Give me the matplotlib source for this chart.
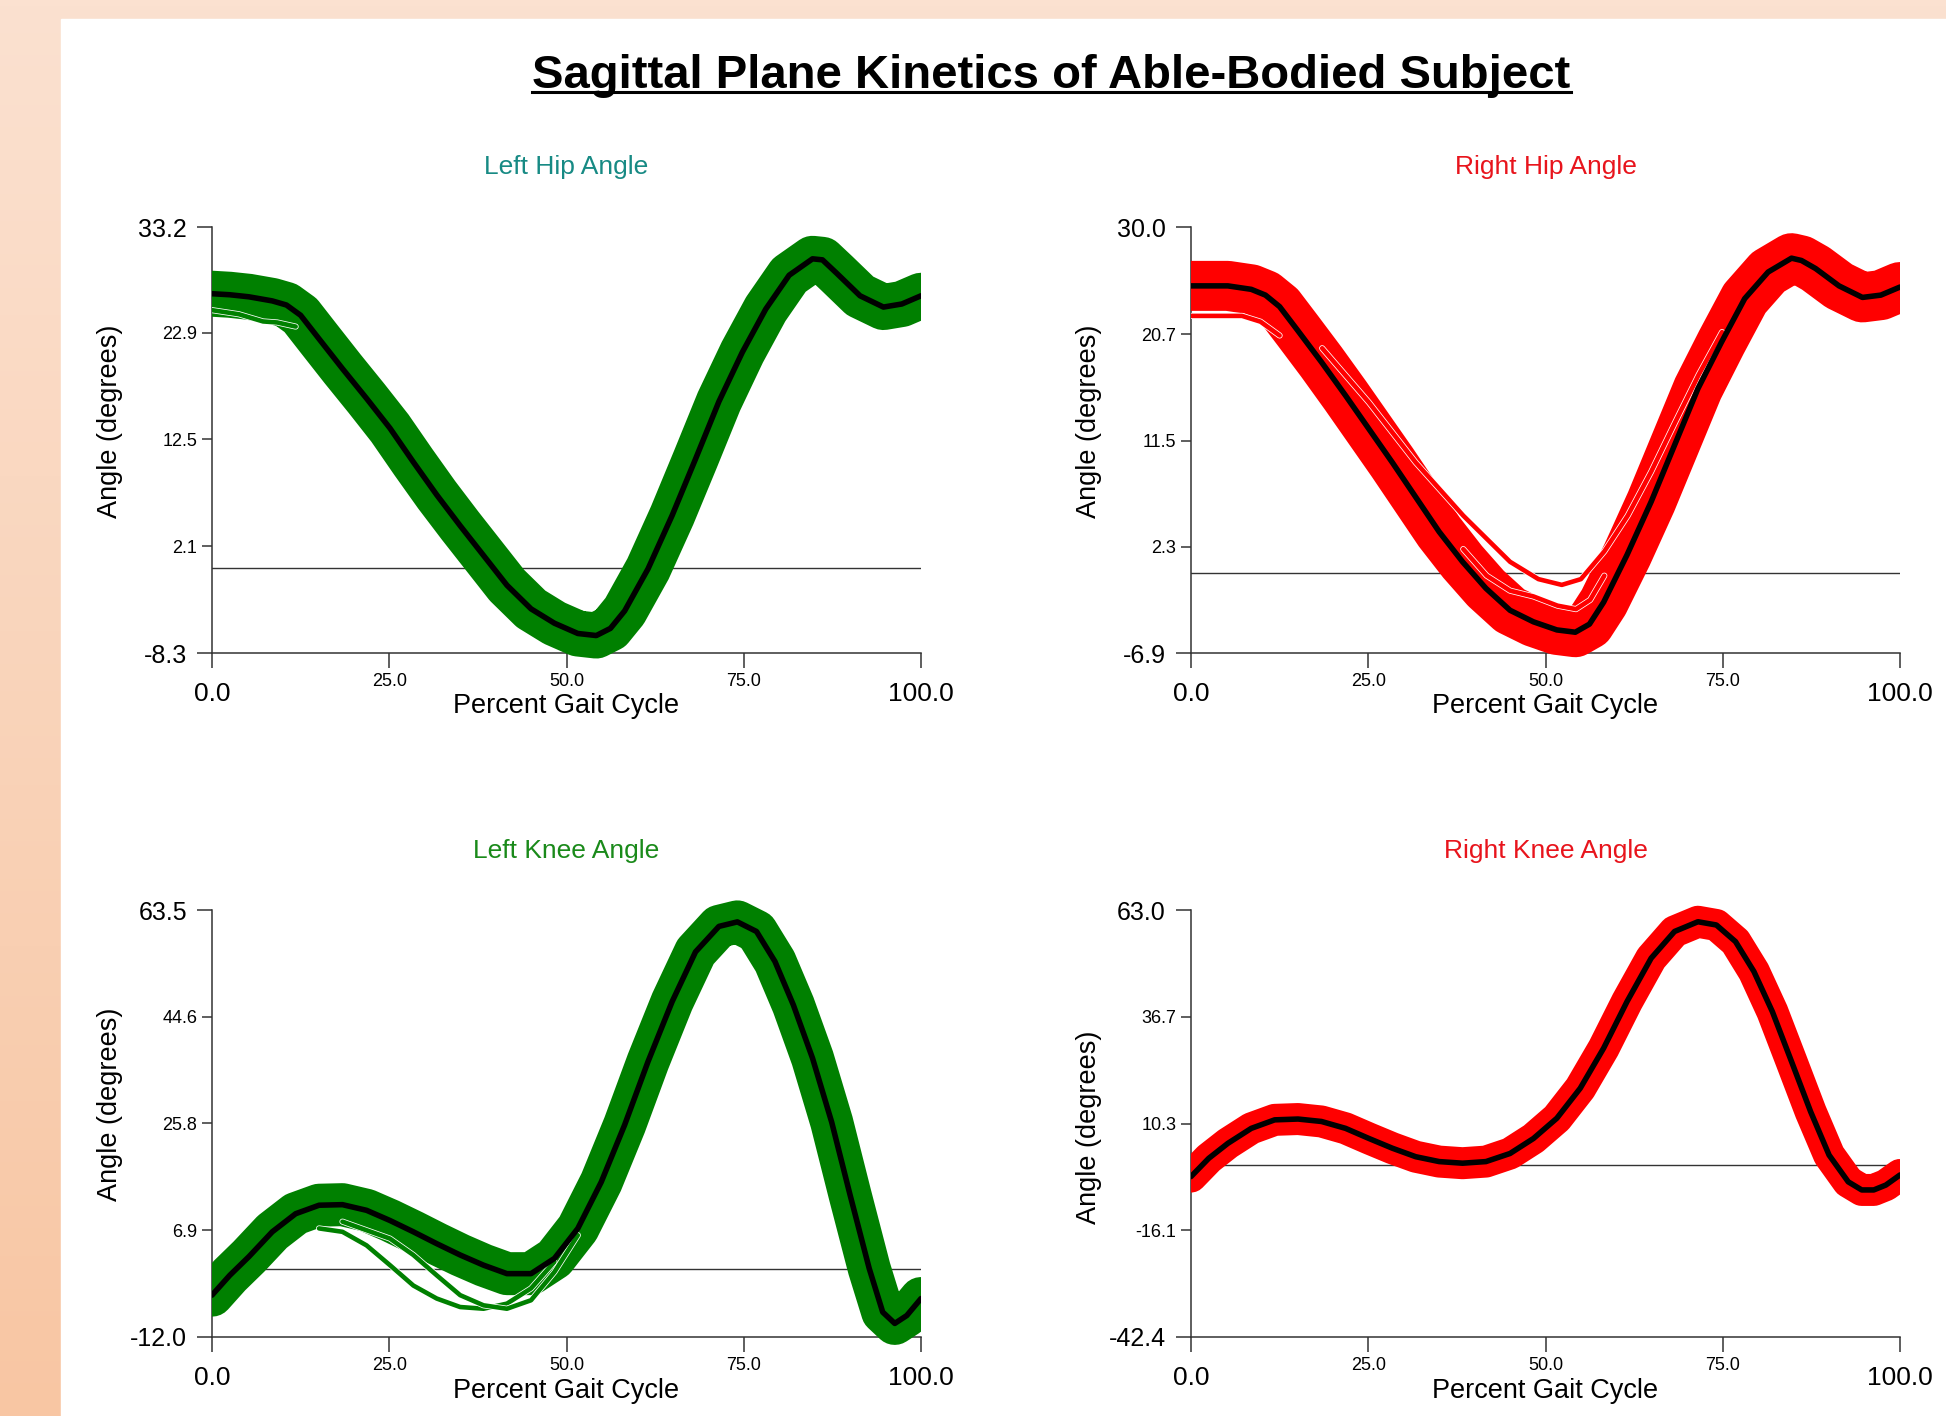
import matplotlib
matplotlib.use("Agg")
import matplotlib.pyplot as plt
import numpy as np
from matplotlib.patches import Rectangle
from matplotlib.lines import Line2D
from matplotlib.colors import LinearSegmentedColormap
import matplotlib.patheffects as pe

plt.rcParams['font.family'] = ['Liberation Sans', 'DejaVu Sans']

hip_pct = [0, 2.5, 5.2, 8.5, 10.5, 12.5, 15.1, 18.4, 21.8, 25.1, 28.4, 31.7, 35.0, 38.3,
           41.6, 45.0, 48.3, 51.6, 54.2, 56.2, 58.2, 61.5, 64.9, 68.2, 71.5, 74.8, 78.1,
           81.4, 84.7, 86.1, 88.1, 91.4, 94.7, 97.3, 100]
knee_pct = [0, 2.5, 5.2, 8.5, 11.8, 15.1, 18.4, 21.8, 25.1, 28.4, 31.7, 35.0, 38.3, 41.6,
            45.0, 48.3, 51.6, 54.9, 58.2, 61.5, 64.9, 68.2, 71.5, 74.1, 76.8, 79.4, 82.0,
            84.7, 87.4, 90.0, 92.7, 94.6, 96.3, 98.0, 100]

# mean curves (black)
left_hip_mean = [26.7, 26.6, 26.4, 26.0, 25.6, 24.6, 22.3, 19.4, 16.5, 13.6, 10.3, 7.1, 4.1, 1.2,
                 -1.7, -4.0, -5.4, -6.4, -6.6, -5.9, -4.2, -0.1, 5.1, 10.6, 16.2, 21.0, 25.2,
                 28.5, 30.1, 30.0, 28.7, 26.5, 25.4, 25.7, 26.5]
right_hip_mean = [24.9, 24.9, 24.9, 24.6, 24.1, 23.1, 21.0, 18.3, 15.4, 12.5, 9.6, 6.6, 3.6, 1.0,
                  -1.3, -3.2, -4.2, -4.9, -5.1, -4.4, -2.5, 1.6, 6.2, 11.1, 16.0, 20.0, 23.8,
                  26.1, 27.3, 27.1, 26.4, 24.9, 23.9, 24.1, 24.8]
left_knee_mean = [-4.6, -1.1, 2.2, 6.6, 9.8, 11.3, 11.4, 10.4, 8.6, 6.6, 4.5, 2.5, 0.7, -0.8,
                  -0.8, 1.9, 7.2, 15.4, 25.5, 36.7, 47.3, 56.1, 60.6, 61.4, 59.7, 54.4, 46.7,
                  37.3, 26.0, 13.1, 0.1, -7.6, -9.6, -8.2, -5.2]
right_knee_mean = [-2.8, 1.7, 5.4, 9.1, 11.2, 11.4, 10.8, 9.1, 6.6, 4.2, 2.1, 0.9, 0.5, 0.9,
                   2.9, 6.6, 11.6, 19.0, 28.9, 40.4, 51.1, 57.7, 60.1, 59.3, 55.2, 47.8, 37.9,
                   25.6, 13.2, 2.5, -4.1, -6.1, -6.1, -4.9, -2.4]

# single trials that stand out from the bundle
lh_low_pct = [0, 3.8, 7.2, 9.2, 11.8]
lh_low = [25.1, 24.7, 24.0, 23.9, 23.5]

rh_a_pct = [18.5, 25.1, 31.7, 38.4, 45.0, 49.0, 52.3, 55.0, 58.3, 61.6, 64.9, 68.3, 71.6, 74.9]
rh_a = [19.5, 14.8, 9.6, 5.0, 1.0, -0.5, -1.0, -0.5, 1.9, 5.0, 8.8, 13.1, 17.2, 20.9]
rh_b_pct = [38.4, 41.7, 45.0, 48.3, 51.7, 54.3, 56.3, 58.3]
rh_b = [2.1, -0.2, -1.5, -2.0, -2.8, -3.1, -2.3, -0.2]
rh_low_pct = [0, 3.9, 7.2, 9.8, 12.5]
rh_low = [22.3, 22.3, 22.3, 21.8, 20.6]

lk_a_pct = [15.1, 18.4, 21.8, 25.1, 28.4, 31.7, 35.0, 38.3, 41.6, 45.0, 48.3]
lk_a = [7.2, 6.6, 4.2, 0.7, -2.9, -5.2, -6.7, -7.0, -6.1, -3.4, 1.3]
lk_b_pct = [18.4, 25.1, 28.4, 31.7, 35.0, 38.3, 41.6, 45.0, 48.3, 51.6]
lk_b = [8.4, 5.4, 2.5, -1.1, -4.6, -6.4, -7.0, -5.5, -0.5, 6.0]

# axis ticks
left_hip_yticks = [-8.3, 2.1, 12.5, 22.9, 33.2]
right_hip_yticks = [-6.9, 2.3, 11.5, 20.7, 30.0]
left_knee_yticks = [-12.0, 6.9, 25.8, 44.6, 63.5]
right_knee_yticks = [-42.4, -16.1, 10.3, 36.7, 63.0]
x_major = [0, 100]
x_minor = [25, 50, 75]

W, H = 1946, 1416
GREEN = '#008000'
RED = '#ff0000'

fig = plt.figure(figsize=(W / 100, H / 100), dpi=100)

# peach background with a white sheet on top
bg = fig.add_axes([0, 0, 1, 1], zorder=-10)
grad = np.linspace(0, 1, 256).reshape(-1, 1)
cmap = LinearSegmentedColormap.from_list('peach', ['#fbe1d0', '#f8c6a3'])
bg.imshow(grad, aspect='auto', cmap=cmap, extent=[0, 1, 0, 1], origin='upper')
bg.add_patch(Rectangle((61 / W, 0), 1, 1 - 19 / H, color='white'))
bg.set_xlim(0, 1)
bg.set_ylim(0, 1)
bg.axis('off')


def panel(rect, pct, mean, trials, color, band_px, yticks, title, title_color, ylab_y):
    ax = fig.add_axes(rect)
    ax.patch.set_visible(False)
    ax.set_xlim(0, 100)
    ax.set_ylim(yticks[0], yticks[-1])

    ax.set_xticks(x_major, ['%.1f' % v for v in x_major])
    ax.set_xticks(x_minor, ['%.1f' % v for v in x_minor], minor=True)
    ax.set_yticks([yticks[0], yticks[-1]], ['%.1f' % yticks[0], '%.1f' % yticks[-1]])
    ax.set_yticks(yticks[1:-1], ['%.1f' % v for v in yticks[1:-1]], minor=True)

    ax.tick_params(axis='both', which='both', color='#333333', width=1.1, direction='out')
    ax.tick_params(axis='x', which='major', length=11, labelsize=19, pad=10)
    ax.tick_params(axis='x', which='minor', length=11, labelsize=13, pad=3.5)
    ax.tick_params(axis='y', which='major', length=11, labelsize=18, pad=7)
    ax.tick_params(axis='y', which='minor', length=7, labelsize=13, pad=3.5)

    for s in ['top', 'right']:
        ax.spines[s].set_visible(False)
    for s in ['left', 'bottom']:
        ax.spines[s].set_color('#333333')
        ax.spines[s].set_linewidth(1.1)

    ax.axhline(0, color='#333333', lw=1.0, zorder=1)

    clip = Rectangle((0, -1000), 100, 2000, transform=ax.transData)
    lines = []
    band, = ax.plot(pct, mean, color=color, lw=band_px / 1.389,
                    solid_capstyle='round', solid_joinstyle='round', zorder=3)
    lines.append(band)
    for tp, tv in trials:
        ln, = ax.plot(tp, tv, color=color, lw=3.3, solid_capstyle='round', zorder=3.5,
                      path_effects=[pe.Stroke(linewidth=4.4, foreground='white'), pe.Normal()])
        lines.append(ln)
    m, = ax.plot(pct, mean, color='black', lw=4, solid_joinstyle='round',
                 solid_capstyle='round', zorder=5)
    lines.append(m)
    for ln in lines:
        ln.set_clip_path(clip)

    ax.set_xlabel('Percent Gait Cycle', fontsize=19.5)
    ax.xaxis.set_label_coords(0.5, -0.095)
    ax.set_ylabel('Angle (degrees)', fontsize=19.5)
    ax.yaxis.set_label_coords(-0.125, ylab_y)

    x0, y0, w, h = rect
    ty = 0.8771 if y0 > 0.5 else 0.3941
    fig.text(x0 + w / 2, ty, title, color=title_color, fontsize=19, ha='center', va='baseline')
    return ax


panel([212 / W, 1 - 653 / H, 709 / W, 426 / H], hip_pct, left_hip_mean,
      [(lh_low_pct, lh_low)], GREEN, 46, left_hip_yticks,
      'Left Hip Angle', '#178a84', 0.545)
panel([1191 / W, 1 - 653 / H, 709 / W, 426 / H], hip_pct, right_hip_mean,
      [(rh_a_pct, rh_a), (rh_b_pct, rh_b), (rh_low_pct, rh_low)], RED, 50, right_hip_yticks,
      'Right Hip Angle', '#e8141c', 0.545)
panel([212 / W, 1 - 1337 / H, 709 / W, 427 / H], knee_pct, left_knee_mean,
      [(lk_a_pct, lk_a), (lk_b_pct, lk_b)], GREEN, 43, left_knee_yticks,
      'Left Knee Angle', '#1a8a1a', 0.546)
panel([1191 / W, 1 - 1337 / H, 709 / W, 427 / H], knee_pct, right_knee_mean,
      [], RED, 32, right_knee_yticks,
      'Right Knee Angle', '#e8141c', 0.492)

title = fig.text(1051.5 / W, 1 - 88 / H, 'Sagittal Plane Kinetics of Able-Bodied Subject',
                 fontsize=34, fontweight='bold', ha='center', va='baseline')
fig.canvas.draw()
bb = title.get_window_extent()
uy = 1 - 91.5 / H
fig.add_artist(Line2D([bb.x0 / W, bb.x1 / W], [uy, uy], transform=fig.transFigure,
                      color='black', lw=2.2))

fig.savefig('out.png', dpi=100)
